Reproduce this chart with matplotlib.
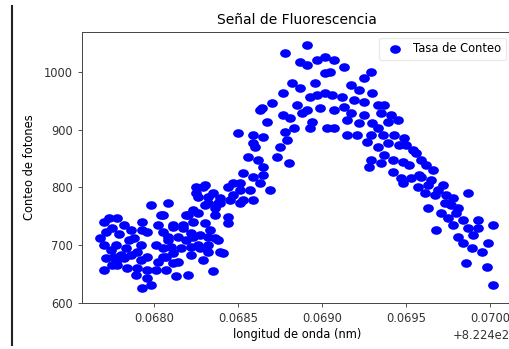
#!/usr/bin/env python

import matplotlib
matplotlib.use('Agg')
import matplotlib.pyplot as plt
import matplotlib.ticker as plticker
from matplotlib.lines import Line2D
from matplotlib.path import Path

BASE_NM    = 822.4   # offset shown by the axis as +8.224e2
FONT_SIZE  = 8.3
TITLE_SIZE = 10

# wavelength minus BASE_NM (nm)
wl_offset = [
    0.06770, 0.06773, 0.06771, 0.06775, 0.06770, 0.06774, 0.06771, 0.06777, 0.06770, 0.06779,
    0.06777, 0.06780, 0.06775, 0.06768, 0.06778, 0.06782, 0.06786, 0.06788, 0.06783, 0.06786,
    0.06790, 0.06792, 0.06784, 0.06790, 0.06793, 0.06792, 0.06785, 0.06789, 0.06793, 0.06793,
    0.06778, 0.06782, 0.06776, 0.06798, 0.06804, 0.06796, 0.06801, 0.06796, 0.06802, 0.06807,
    0.06796, 0.06801, 0.06796, 0.06798, 0.06805, 0.06808, 0.06808, 0.06805, 0.06802, 0.06807,
    0.06811, 0.06817, 0.06820, 0.06814, 0.06811, 0.06816, 0.06822, 0.06822, 0.06813, 0.06820,
    0.06814, 0.06819, 0.06823, 0.06823, 0.06826, 0.06830, 0.06827, 0.06827, 0.06832, 0.06838,
    0.06826, 0.06832, 0.06835, 0.06839, 0.06838, 0.06830, 0.06833, 0.06836, 0.06829, 0.06825,
    0.06856, 0.06862, 0.06853, 0.06859, 0.06865, 0.06847, 0.06844, 0.06851, 0.06857, 0.06825,
    0.06839, 0.06845, 0.06853, 0.06859, 0.06830, 0.06836, 0.06844, 0.06819, 0.06844, 0.06805,
    0.06811, 0.06817, 0.06808, 0.06823, 0.06832, 0.06836, 0.06810, 0.06826, 0.06832, 0.06841,
    0.06805, 0.06811, 0.06822, 0.06850, 0.06859, 0.06863, 0.06870, 0.06878, 0.06882, 0.06877,
    0.06880, 0.06869, 0.06891, 0.06887, 0.06891, 0.06897, 0.06902, 0.06887, 0.06896, 0.06897,
    0.06902, 0.06864, 0.06885, 0.06891, 0.06899, 0.06877, 0.06867, 0.06881, 0.06894, 0.06893,
    0.06903, 0.06859, 0.06865, 0.06878, 0.06883, 0.06860, 0.06875, 0.06879, 0.06873, 0.06865,
    0.06863, 0.06851, 0.06835, 0.06829, 0.06847, 0.06832, 0.06839, 0.06851, 0.06902, 0.06907,
    0.06913, 0.06929, 0.06905, 0.06925, 0.06917, 0.06922, 0.06930, 0.06906, 0.06912, 0.06893,
    0.06919, 0.06925, 0.06933, 0.06937, 0.06913, 0.06907, 0.06888, 0.06917, 0.06925, 0.06935,
    0.06941, 0.06945, 0.06939, 0.06915, 0.06922, 0.06930, 0.06907, 0.06933, 0.06915, 0.06921,
    0.06929, 0.06936, 0.06943, 0.06949, 0.06927, 0.06939, 0.06933, 0.06946, 0.06956, 0.06937,
    0.06942, 0.06948, 0.06929, 0.06928, 0.06935, 0.06952, 0.06942, 0.06947, 0.06953, 0.06958,
    0.06966, 0.06959, 0.06948, 0.06957, 0.06972, 0.06963, 0.06987, 0.06961, 0.06967, 0.06978,
    0.06963, 0.06973, 0.06981, 0.06971, 0.06975, 0.06984, 0.06993, 0.07002, 0.06968, 0.06978,
    0.06987, 0.06993, 0.06981, 0.06990, 0.06984, 0.06989, 0.06995, 0.06999, 0.06986, 0.06998,
    0.07002, 0.06950, 0.06954, 0.06959, 0.06962, 0.06965, 0.06969, 0.06974, 0.06977, 0.06980,
]

# photon counts
counts = [
    740, 747, 723, 729, 700, 691, 677, 671, 657, 719,
    700, 683, 665, 712, 747, 735, 726, 712, 695, 683,
    688, 674, 660, 660, 625, 700, 709, 648, 726, 740,
    665, 677, 679, 769, 752, 723, 700, 679, 671, 679,
    657, 657, 643, 631, 723, 709, 773, 695, 735, 657,
    735, 735, 752, 714, 686, 695, 697, 721, 646, 648,
    671, 709, 740, 761, 755, 738, 717, 695, 700, 709,
    783, 783, 655, 688, 773, 804, 726, 752, 674, 801,
    853, 847, 825, 818, 835, 807, 801, 795, 795, 790,
    781, 778, 778, 778, 769, 764, 749, 752, 738, 752,
    731, 729, 714, 714, 714, 712, 697, 700, 688, 686,
    679, 669, 683, 894, 877, 934, 946, 1033, 981, 963,
    842, 795, 1047, 1017, 1012, 1021, 998, 972, 981, 960,
    963, 937, 943, 934, 937, 925, 913, 920, 913, 903,
    903, 891, 887, 896, 903, 870, 870, 882, 853, 821,
    807, 807, 790, 801, 787, 773, 773, 773, 1026, 1021,
    1008, 1000, 1000, 989, 977, 969, 963, 960, 956, 956,
    951, 948, 943, 943, 939, 934, 929, 929, 925, 929,
    925, 917, 913, 917, 911, 911, 903, 903, 891, 891,
    891, 891, 891, 885, 879, 877, 870, 873, 859, 856,
    847, 844, 847, 835, 842, 839, 827, 816, 816, 821,
    830, 818, 807, 801, 804, 804, 790, 790, 787, 781,
    764, 773, 764, 755, 747, 743, 743, 735, 726, 735,
    729, 729, 714, 717, 703, 695, 688, 703, 669, 662,
    631, 873, 865, 847, 839, 813, 795, 787, 769, 755,
]

wavelength = [BASE_NM + w for w in wl_offset]

# marker a little wider than tall, like in the source screenshot
ELLIPSE = Path.unit_circle().transformed(matplotlib.transforms.Affine2D().scale(1.0, 0.8))

figure = plt.figure(figsize=(5.10, 3.49), dpi=100)
ax = figure.add_axes([82 / 510, 46 / 349, 430 / 510, 271 / 349])

ax.scatter(wavelength, counts, s=60, marker=ELLIPSE, color='blue', linewidths=0,
           label='Tasa de Conteo')

ax.set_xlim(BASE_NM + 0.067570, BASE_NM + 0.070131)
ax.set_ylim(599.5, 1069)
ax.xaxis.set_major_locator(plticker.MultipleLocator(0.0005))
ax.yaxis.set_major_locator(plticker.MultipleLocator(100))

ax.set_title('Señal de Fluorescencia', fontsize=TITLE_SIZE, pad=6)
ax.set_xlabel('longitud de onda (nm)', fontsize=FONT_SIZE, labelpad=2)
ax.set_ylabel('Conteo de fotones', fontsize=FONT_SIZE, labelpad=6)
ax.tick_params(labelsize=FONT_SIZE, length=3, width=0.6, colors='#333333')
ax.xaxis.get_offset_text().set_fontsize(FONT_SIZE)
ax.xaxis.get_offset_text().set_horizontalalignment('right')
ax.xaxis.get_offset_text().set_x(0.995)
for spine in ax.spines.values():
    spine.set_linewidth(0.7)
    spine.set_color('#444444')

ax.legend(loc='upper right', fontsize=FONT_SIZE, handletextpad=0.6, borderaxespad=0.5,
          edgecolor='#e6e6e6')

# dark edge of the screenshot on the left
figure.add_artist(Line2D([12 / 510, 12 / 510], [4 / 349, 343 / 349], color='#222222', lw=1.5))

figure.savefig('out.png', dpi=100)
plt.close(figure)
